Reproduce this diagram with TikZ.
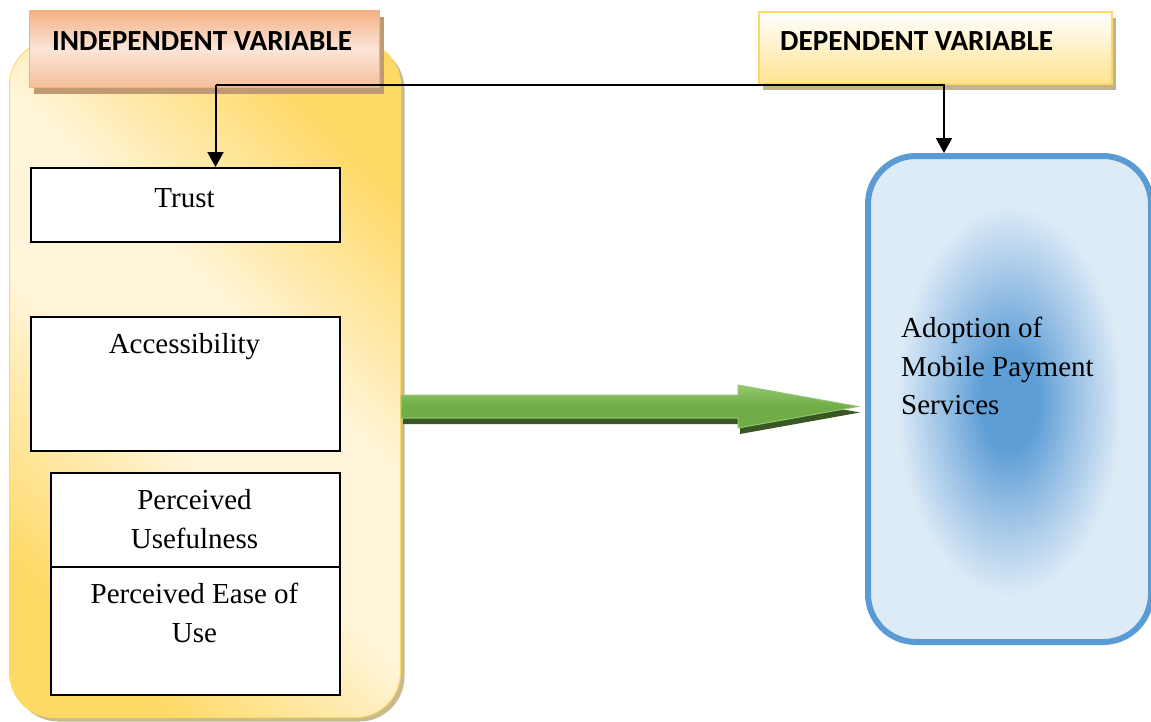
\documentclass[tikz,border=0pt]{standalone}
\usepackage{fontspec}
\setmainfont{Liberation Serif}
\newfontfamily\headfont{Carlito}
\usetikzlibrary{arrows.meta,shadows,calc}
\definecolor{pYellow}{HTML}{FFD966}
\definecolor{pLight}{HTML}{FFF5DA}
\definecolor{pShadow}{HTML}{C8BC8E}
\definecolor{hOrange}{HTML}{F4B183}
\definecolor{hLight}{HTML}{FBE5D9}
\definecolor{hShadow}{HTML}{C09A72}
\definecolor{dYellow}{HTML}{FFE38F}
\definecolor{dShadow}{HTML}{BFB48C}
\definecolor{gMain}{HTML}{70AD47}
\definecolor{gLight}{HTML}{93C76F}
\definecolor{gDark}{HTML}{385723}
\definecolor{bBorder}{HTML}{5B9BD5}
\definecolor{bBase}{HTML}{DDEBF7}
\definecolor{bCore}{HTML}{5E9ED6}
\definecolor{bMid}{HTML}{9DC3E6}
\pgfdeclareradialshading{blob}{\pgfpoint{0bp}{0bp}}{color(0bp)=(bCore); color(5bp)=(bCore); color(12bp)=(bMid); color(20bp)=(bBase); color(50bp)=(bBase)}
\pgfdeclarehorizontalshading{panelgrad}{100bp}{color(0bp)=(pYellow); color(25bp)=(pYellow); color(44bp)=(pLight); color(56bp)=(pLight); color(75bp)=(pYellow); color(100bp)=(pYellow)}
\tikzset{
  panelbox/.style={draw=pYellow, line width=1pt, rounded corners=45pt,
    shading=panelgrad, shading angle=45,
    drop shadow={shadow xshift=4pt, shadow yshift=-4pt, fill=pShadow, opacity=1},
    inner sep=0pt, anchor=north west},
  indepbox/.style={draw=hOrange, line width=1pt,
    top color=hOrange, bottom color=hOrange!75!hLight, middle color=hLight,
    drop shadow={shadow xshift=4pt, shadow yshift=-6pt, fill=hShadow, opacity=1},
    inner sep=0pt, anchor=north west},
  depbox/.style={draw=pYellow, line width=1.5pt,
    top color=white, bottom color=dYellow,
    drop shadow={shadow xshift=4pt, shadow yshift=-6pt, fill=dShadow, opacity=1},
    inner sep=0pt, anchor=north west},
  wbox/.style={draw=black, line width=1.6pt, fill=white, inner sep=0pt, anchor=north west},
  lbl/.style={inner sep=0pt, font=\fontsize{29}{38.5}\selectfont, align=center},
  hlbl/.style={inner sep=0pt, font=\headfont\bfseries\fontsize{29.2}{34}\selectfont, anchor=base west},
  conn/.style={draw=black, line width=2pt, -{Triangle[length=15pt,width=16pt]}},
  adoptbox/.style={draw=bBorder, line width=6pt, rounded corners=48pt, fill=bBase,
    inner sep=0pt, anchor=north west},
}
\begin{document}
\begin{tikzpicture}[x=1pt,y=-1pt]
\useasboundingbox (0,0) rectangle (1151,721);
% left panel
\node[panelbox, minimum width=391pt, minimum height=677pt] (panel) at (9,40) {};
% headers
\node[indepbox, minimum width=350pt, minimum height=77pt] (indep) at (29,10) {};
\node[hlbl] (indeptext) at (52,50) {INDEPENDENT VARIABLE};
\node[depbox, minimum width=353pt, minimum height=72pt] (dep) at (758,11) {};
\node[hlbl] (deptext) at (780,50) {DEPENDENT VARIABLE};
% dependent box
\node[adoptbox, minimum width=283pt, minimum height=486pt,
  path picture={\shade[shading=blob] ($(path picture bounding box.center)+(3,12)$) ellipse (135 and 235);}] (adopt) at (865,153) {};
\node[lbl, align=left, anchor=north west] (adopttext) at (901,317.2) {Adoption of\\Mobile Payment\\Services};
% factor boxes
\node[wbox, minimum width=309pt, minimum height=74pt] (trust) at (30,167) {};
\node[lbl, anchor=base] (trusttext) at (184.5,207) {Trust};
\node[wbox, minimum width=309pt, minimum height=134pt] (access) at (30,316) {};
\node[lbl, anchor=base] (accesstext) at (184.5,353) {Accessibility};
\node[wbox, minimum width=289pt, minimum height=94pt] (pu) at (50,472) {};
\node[lbl, anchor=north] (putext) at (194.5,489.2) {Perceived\\Usefulness};
\node[wbox, minimum width=289pt, minimum height=128pt] (peou) at (50,566) {};
\node[lbl, anchor=north] (peoutext) at (194.5,583.2) {Perceived Ease of\\Use};
% connectors
\coordinate (j) at (215.5,85);
\coordinate (k) at (944,85);
\draw[conn] (j) -- (j |- trust.north);
\draw[conn] (j) -- (k) -- (k |- adopt.north);
% green arrow
\coordinate (ga) at (panel.east |- 0,406.5);
\coordinate (gb) at ($(adopt.west |- ga)+(-7,0)$);
\fill[gDark] ($(ga)+(2,-5.5)$) -- ($(gb)+(-118,-5.5)$) -- ($(gb)+(-118,-15.5)$) -- ($(gb)+(2,6)$)
  -- ($(gb)+(-118,27.5)$) -- ($(gb)+(-118,17.5)$) -- ($(ga)+(2,17.5)$) -- cycle;
\draw[draw=gLight, line width=1pt, top color=gLight, bottom color=gMain, middle color=gMain]
  ($(ga)+(0,-11.5)$) -- ($(gb)+(-120,-11.5)$) -- ($(gb)+(-120,-21.5)$) -- (gb)
  -- ($(gb)+(-120,21.5)$) -- ($(gb)+(-120,11.5)$) -- ($(ga)+(0,11.5)$) -- cycle;
\end{tikzpicture}
\end{document}
